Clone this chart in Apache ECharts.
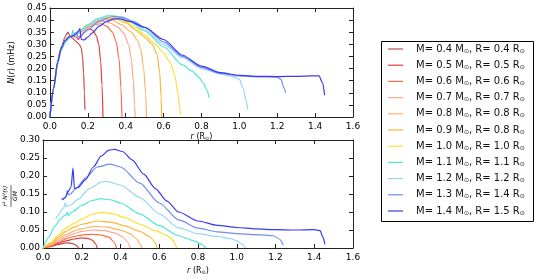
<!DOCTYPE html>
<html><head><meta charset="utf-8">
<script src="https://cdn.jsdelivr.net/npm/echarts@6/dist/echarts.min.js"></script>
<style>html,body{margin:0;padding:0;background:#fff}#c{width:539px;height:279px}</style>
</head><body><div id="c"></div>
<script>
const masses = ['0.4','0.5','0.6','0.7','0.8','0.9','1.0','1.1','1.2','1.3','1.4'];
const radii  = ['0.4','0.5','0.6','0.7','0.8','0.8','1.0','1.1','1.2','1.4','1.5'];
const colors = ['#c44e4e','#ee3b3b','#f5704a','#fba88e','#fdb46a','#fdb636','#fde030','#50e6d4','#96d8f4','#6f8cf2','#3a3af0'];
const xTicks = [0,0.2,0.4,0.6,0.8,1.0,1.2,1.4,1.6];

// Top panel: N(r) in mHz, [r, N]
const topN04 = [[0,0],[0.02,0.12],[0.04,0.225],[0.06,0.29],[0.08,0.33],[0.09,0.345],[0.095,0.35],[0.105,0.335],[0.12,0.325],[0.14,0.31],[0.155,0.3],[0.165,0.285],[0.172,0.25],[0.178,0.18],[0.182,0.1],[0.185,0.03]];
const topN05 = [[0,0],[0.02,0.12],[0.04,0.225],[0.06,0.285],[0.08,0.315],[0.1,0.33],[0.12,0.335],[0.14,0.33],[0.15,0.32],[0.16,0.33],[0.18,0.35],[0.2,0.362],[0.215,0.363],[0.23,0.355],[0.245,0.335],[0.258,0.3],[0.268,0.23],[0.275,0.13],[0.28,0.0]];
const topN06 = [[0,0],[0.02,0.12],[0.04,0.225],[0.06,0.285],[0.08,0.315],[0.1,0.33],[0.12,0.34],[0.14,0.345],[0.16,0.35],[0.2,0.37],[0.24,0.383],[0.27,0.385],[0.3,0.375],[0.33,0.35],[0.35,0.31],[0.365,0.24],[0.375,0.12],[0.38,0.0]];
const topN07 = [[0,0],[0.02,0.12],[0.04,0.225],[0.06,0.285],[0.08,0.315],[0.1,0.33],[0.12,0.34],[0.15,0.35],[0.2,0.375],[0.25,0.392],[0.28,0.395],[0.32,0.388],[0.36,0.37],[0.39,0.345],[0.415,0.3],[0.43,0.24],[0.44,0.15],[0.447,0.05],[0.45,0.0]];
const topN08 = [[0,0],[0.02,0.12],[0.04,0.225],[0.06,0.285],[0.08,0.315],[0.1,0.33],[0.12,0.34],[0.15,0.352],[0.2,0.378],[0.25,0.397],[0.29,0.405],[0.33,0.4],[0.38,0.38],[0.43,0.35],[0.46,0.32],[0.48,0.28],[0.495,0.2],[0.505,0.1],[0.51,0.0]];
const topN09 = [[0,0],[0.02,0.12],[0.04,0.225],[0.06,0.285],[0.08,0.315],[0.1,0.33],[0.12,0.34],[0.15,0.353],[0.2,0.38],[0.25,0.4],[0.3,0.41],[0.35,0.405],[0.4,0.39],[0.45,0.36],[0.5,0.33],[0.54,0.3],[0.565,0.26],[0.58,0.18],[0.587,0.08],[0.59,0.0]];
const topN10 = [[0,0],[0.02,0.12],[0.04,0.225],[0.06,0.285],[0.08,0.315],[0.1,0.33],[0.12,0.34],[0.15,0.352],[0.2,0.38],[0.25,0.403],[0.3,0.415],[0.35,0.41],[0.4,0.395],[0.45,0.37],[0.5,0.34],[0.55,0.305],[0.6,0.265],[0.635,0.225],[0.66,0.17],[0.675,0.1],[0.685,0.04],[0.69,0.01]];
const topN11 = [[0,0],[0.02,0.115],[0.04,0.215],[0.06,0.275],[0.08,0.305],[0.1,0.325],[0.115,0.335],[0.12,0.36],[0.125,0.335],[0.15,0.35],[0.2,0.38],[0.25,0.405],[0.31,0.42],[0.36,0.415],[0.42,0.395],[0.5,0.355],[0.6,0.29],[0.7,0.215],[0.75,0.19],[0.785,0.165],[0.81,0.14],[0.83,0.11],[0.84,0.08]];
const topN12 = [[0,0],[0.02,0.12],[0.04,0.22],[0.06,0.28],[0.08,0.31],[0.1,0.33],[0.12,0.338],[0.13,0.35],[0.135,0.335],[0.16,0.35],[0.2,0.375],[0.26,0.405],[0.32,0.42],[0.38,0.412],[0.44,0.39],[0.5,0.36],[0.6,0.3],[0.7,0.245],[0.8,0.2],[0.9,0.178],[0.95,0.17],[0.98,0.163],[1.0,0.155],[1.02,0.12],[1.035,0.07],[1.045,0.03]];
const topN13 = [[0,0],[0.02,0.12],[0.04,0.225],[0.06,0.285],[0.08,0.315],[0.1,0.33],[0.12,0.335],[0.14,0.345],[0.15,0.33],[0.16,0.335],[0.2,0.36],[0.26,0.395],[0.33,0.415],[0.38,0.412],[0.44,0.395],[0.5,0.37],[0.6,0.31],[0.7,0.25],[0.8,0.205],[0.9,0.18],[1.0,0.17],[1.1,0.166],[1.2,0.165],[1.22,0.155],[1.235,0.12],[1.245,0.1]];
const topN14 = [[0,0],[0.02,0.12],[0.04,0.225],[0.06,0.285],[0.08,0.315],[0.1,0.33],[0.12,0.335],[0.14,0.345],[0.155,0.36],[0.158,0.365],[0.165,0.32],[0.18,0.318],[0.2,0.33],[0.22,0.345],[0.26,0.375],[0.3,0.395],[0.34,0.405],[0.37,0.405],[0.42,0.395],[0.5,0.37],[0.6,0.32],[0.7,0.255],[0.8,0.21],[0.9,0.183],[1.0,0.172],[1.1,0.168],[1.2,0.167],[1.3,0.168],[1.38,0.17],[1.42,0.17],[1.44,0.14],[1.45,0.09]];

// Bottom panel: r^2 N^2(r) / GM, [r, value]
const botV04 = [[0,0],[0.04,0.004],[0.08,0.01],[0.12,0.014],[0.15,0.013],[0.17,0.008],[0.18,0.003],[0.185,0.0]];
const botV05 = [[0,0],[0.04,0.005],[0.08,0.013],[0.12,0.02],[0.16,0.025],[0.2,0.028],[0.23,0.027],[0.255,0.022],[0.27,0.012],[0.28,0.0]];
const botV06 = [[0,0],[0.04,0.006],[0.08,0.016],[0.12,0.026],[0.16,0.032],[0.2,0.036],[0.25,0.038],[0.3,0.036],[0.34,0.03],[0.365,0.018],[0.38,0.0]];
const botV07 = [[0,0],[0.04,0.008],[0.08,0.02],[0.12,0.032],[0.16,0.04],[0.2,0.046],[0.26,0.05],[0.32,0.048],[0.37,0.042],[0.41,0.032],[0.435,0.018],[0.45,0.0]];
const botV08 = [[0,0],[0.04,0.01],[0.08,0.025],[0.12,0.038],[0.16,0.047],[0.2,0.054],[0.27,0.06],[0.33,0.058],[0.4,0.05],[0.45,0.04],[0.485,0.025],[0.5,0.012],[0.51,0.0]];
const botV09 = [[0,0],[0.04,0.012],[0.08,0.03],[0.12,0.047],[0.16,0.058],[0.2,0.066],[0.28,0.075],[0.35,0.072],[0.42,0.062],[0.5,0.046],[0.55,0.032],[0.575,0.018],[0.59,0.0]];
const botV10 = [[0,0],[0.04,0.015],[0.08,0.036],[0.12,0.056],[0.16,0.068],[0.2,0.08],[0.25,0.093],[0.3,0.099],[0.35,0.096],[0.42,0.085],[0.5,0.066],[0.58,0.048],[0.64,0.035],[0.67,0.022],[0.685,0.008],[0.69,0.0]];
const botV11 = [[0,0],[0.03,0.03],[0.06,0.06],[0.09,0.08],[0.11,0.09],[0.12,0.092],[0.125,0.1],[0.13,0.09],[0.15,0.1],[0.2,0.118],[0.25,0.132],[0.3,0.137],[0.35,0.134],[0.4,0.125],[0.5,0.095],[0.6,0.062],[0.7,0.034],[0.78,0.02],[0.82,0.01],[0.84,0.0]];
const botV12 = [[0.065,0.08],[0.08,0.092],[0.1,0.108],[0.11,0.115],[0.115,0.126],[0.12,0.115],[0.14,0.118],[0.18,0.135],[0.24,0.165],[0.3,0.183],[0.33,0.185],[0.4,0.175],[0.5,0.14],[0.6,0.095],[0.7,0.056],[0.8,0.04],[0.9,0.032],[0.97,0.026],[1.0,0.02],[1.03,0.01],[1.045,0.0]];
const botV13 = [[0.095,0.135],[0.11,0.138],[0.12,0.145],[0.125,0.16],[0.13,0.148],[0.14,0.15],[0.17,0.165],[0.22,0.195],[0.28,0.225],[0.345,0.233],[0.4,0.225],[0.5,0.18],[0.6,0.125],[0.7,0.078],[0.8,0.055],[0.9,0.045],[1.0,0.04],[1.1,0.037],[1.19,0.034],[1.22,0.025],[1.24,0.008]];
const botV14 = [[0.1,0.134],[0.115,0.14],[0.13,0.157],[0.145,0.17],[0.155,0.222],[0.162,0.165],[0.18,0.168],[0.22,0.19],[0.26,0.225],[0.3,0.255],[0.34,0.272],[0.37,0.274],[0.41,0.268],[0.46,0.245],[0.52,0.205],[0.58,0.165],[0.64,0.13],[0.7,0.1],[0.8,0.075],[0.9,0.063],[1.0,0.057],[1.1,0.053],[1.2,0.051],[1.3,0.05],[1.4,0.051],[1.43,0.048],[1.445,0.03],[1.455,0.01]];

const topSets = [topN04,topN05,topN06,topN07,topN08,topN09,topN10,topN11,topN12,topN13,topN14];
const botSets = [botV04,botV05,botV06,botV07,botV08,botV09,botV10,botV11,botV12,botV13,botV14];

const FONT = 'DejaVu Sans';
const names = masses.map((m,i)=>'M= '+m+' M⊙, R= '+radii[i]+' R⊙');

function xAx(grid, pos, labels, name, gap){
  return {type:'value', gridIndex:grid, position:pos, min:0, max:1.6, interval:0.2,
    axisLine:{show:true, onZero:false, lineStyle:{color:'#222', width:1}},
    axisTick:{show:true, inside:true, length:4, lineStyle:{color:'#222'}},
    axisLabel:{show:labels, color:'#000', fontFamily:FONT, fontSize:9, margin:5, formatter:v=>v.toFixed(1)},
    splitLine:{show:false},
    name: labels ? '{i|r} (R{s|⊙})' : '', nameLocation:'middle', nameGap:gap||0,
    nameTextStyle:{color:'#000', fontFamily:FONT, fontSize:8, rich:{i:{fontStyle:'italic',fontSize:8,fontFamily:FONT}, s:{fontSize:5,fontFamily:FONT,padding:[4,0,0,0]}}}
  };
}
function yAx(grid, pos, labels, max, name, gap){
  return {type:'value', gridIndex:grid, position:pos, min:0, max:max, interval:0.05,
    axisLine:{show:true, onZero:false, lineStyle:{color:'#222', width:1}},
    axisTick:{show:true, inside:true, length:4, lineStyle:{color:'#222'}},
    axisLabel:{show:labels, color:'#000', fontFamily:FONT, fontSize:9, margin:3, formatter:v=>v.toFixed(2)},
    splitLine:{show:false},
    name: name||'', nameLocation:'middle', nameGap:gap||0,
    nameTextStyle:{color:'#000', fontFamily:FONT, fontSize:8, rich:{i:{fontStyle:'italic',fontSize:8,fontFamily:FONT}}}
  };
}

const series = [];
topSets.forEach((d,i)=>series.push({name:names[i], type:'line', data:d, xAxisIndex:0, yAxisIndex:0,
  showSymbol:false, smooth:0.25, smoothMonotone:'x', lineStyle:{width:1.2,color:colors[i]}, itemStyle:{color:colors[i]}, z:2+i}));
botSets.forEach((d,i)=>series.push({name:names[i], type:'line', data:d, xAxisIndex:2, yAxisIndex:2,
  showSymbol:false, smooth:0.25, smoothMonotone:'x', lineStyle:{width:1.2,color:colors[i]}, itemStyle:{color:colors[i]}, z:2+i}));

const chart = echarts.init(document.getElementById('c'), null, {renderer:'canvas'});
chart.setOption({
  animation:false,
  backgroundColor:'#fff',
  textStyle:{fontFamily:FONT},
  grid:[{left:43, right:186, top:8, height:109},{left:43, right:186, top:140, height:108}],
  xAxis:[xAx(0,'bottom',true,'',15), xAx(0,'top',false), xAx(1,'bottom',true,'',18), xAx(1,'top',false)],
  yAxis:[yAx(0,'left',true,0.45,'{i|N}({i|r}) (mHz)',29), yAx(0,'right',false,0.45), yAx(1,'left',true,0.30), yAx(1,'right',false,0.30)],
  legend:{orient:'vertical', left:388, top:43, padding:0, itemGap:4.2, itemWidth:15, itemHeight:1.2, icon:'rect',
    data:names,
    formatter:n=>n.replace(/⊙/g,'{s|⊙}'),
    textStyle:{color:'#111', fontFamily:FONT, fontSize:10, lineHeight:12, padding:[0,0,0,8],
      rich:{s:{fontSize:6, fontFamily:FONT, color:'#111', padding:[4,0,0,0]}}}},
  graphic:[
    {type:'rect', shape:{x:381.5, y:41.5, width:152, height:180}, style:{fill:'none', stroke:'#000', lineWidth:1}, silent:true},
    {type:'group', x:11, y:196, rotation:Math.PI/2, children:[
      {type:'text', style:{text:'r² N²(r)', x:0, y:-2.5, fill:'#000', font:'italic 6px "DejaVu Sans"', textAlign:'center', textVerticalAlign:'bottom'}},
      {type:'line', shape:{x1:-11, y1:0, x2:11, y2:0}, style:{stroke:'#000', lineWidth:0.6}},
      {type:'text', style:{text:'GM', x:0, y:1.5, fill:'#000', font:'italic 6px "DejaVu Sans"', textAlign:'center', textVerticalAlign:'top'}}
    ]}
  ],
  series:series
});
</script></body></html>
